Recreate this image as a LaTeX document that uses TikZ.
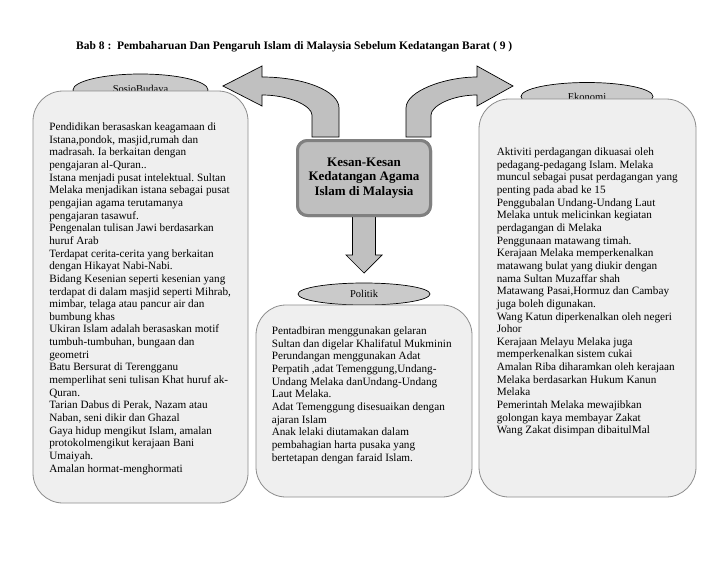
\documentclass[tikz,border=0pt]{standalone}
\usepackage{fontspec}
\setmainfont{Liberation Serif}
\usetikzlibrary{shapes.geometric,positioning}

\definecolor{boxfill}{HTML}{EFEFEF}
\definecolor{boxline}{HTML}{8C8C8C}
\definecolor{labelfill}{HTML}{CACACA}
\definecolor{arrowfill}{HTML}{C0C0C0}
\definecolor{kesanfill}{HTML}{BFBFBF}
\definecolor{kesanline}{HTML}{808080}

\tikzset{
  topicbox/.style={draw=boxline, fill=boxfill, rounded corners=30pt, line width=0.8pt},
  topiclabel/.style={ellipse, draw=black, fill=labelfill, line width=0.7pt, inner sep=0pt,
    font=\fontsize{10.5}{12}\selectfont},
  pointlist/.style={align=left, inner sep=0pt, font=\fontsize{11.2}{12.65}\selectfont},
  blockarrow/.style={draw=black, fill=arrowfill, line width=0.7pt, line join=miter},
  kesanbox/.style={draw=kesanline, fill=kesanfill, rounded corners=10pt, line width=3pt,
    align=center, font=\bfseries\fontsize{13}{14.5}\selectfont},
}
\frenchspacing

\begin{document}
\begin{tikzpicture}[x=1pt, y=-1pt]
    \useasboundingbox (0,0) rectangle (728,563);

    \node[anchor=west, inner sep=0pt, font=\bfseries\fontsize{11.5}{13}\selectfont] (judul) at (76,47)
        {Bab 8 :\ \ Pembaharuan Dan Pengaruh Islam di Malaysia Sebelum Kedatangan Barat ( 9 )};

    % labels first, the boxes hide their lower part
    \node[topiclabel, minimum width=135pt, minimum height=32pt] (sosiolabel) at (140.5,90) {SosioBudaya};
    \node[topiclabel, minimum width=132pt, minimum height=28pt] (ekonomilabel) at (587,96.5) {Ekonomi};
    \node[topiclabel, minimum width=132pt, minimum height=22pt] (politiklabel) at (364,294) {Politik};

    \node[topicbox, minimum width=215pt, minimum height=412pt] (sosio) at (140.5,297) {};
    \node[topicbox, minimum width=217pt, minimum height=398pt] (ekonomi) at (587.5,298) {};
    \node[topicbox, minimum width=216pt, minimum height=192pt] (politik) at (364,401) {};

    \node[pointlist, below right=32pt and 16.5pt of sosio.north west] (sosiotext) {%
        Pendidikan berasaskan keagamaan di\\
        Istana,pondok, masjid,rumah dan\\
        madrasah. Ia berkaitan dengan\\
        pengajaran al-Quran..\\
        Istana menjadi pusat intelektual. Sultan\\
        Melaka menjadikan istana sebagai pusat\\
        pengajian agama terutamanya\\
        pengajaran tasawuf.\\
        Pengenalan tulisan Jawi berdasarkan\\
        huruf Arab\\
        Terdapat cerita-cerita yang berkaitan\\
        dengan Hikayat Nabi-Nabi.\\
        Bidang Kesenian seperti kesenian yang\\
        terdapat di dalam masjid seperti Mihrab,\\
        mimbar, telaga atau pancur air dan\\
        bumbung khas\\
        Ukiran Islam adalah berasaskan motif\\
        tumbuh-tumbuhan, bungaan dan\\
        geometri\\
        Batu Bersurat di Terengganu\\
        memperlihat seni tulisan Khat huruf ak-\\
        Quran.\\
        Tarian Dabus di Perak, Nazam atau\\
        Naban, seni dikir dan Ghazal\\
        Gaya hidup mengikut Islam, amalan\\
        protokolmengikut kerajaan Bani\\
        Umaiyah.\\
        Amalan hormat-menghormati};

    \node[pointlist, below right=49pt and 18pt of ekonomi.north west] (ekonomitext) {%
        Aktiviti perdagangan dikuasai oleh\\
        pedagang-pedagang Islam. Melaka\\
        muncul sebagai pusat perdagangan yang\\
        penting pada abad ke 15\\
        Penggubalan Undang-Undang Laut\\
        Melaka untuk melicinkan kegiatan\\
        perdagangan di Melaka\\
        Penggunaan matawang timah.\\
        Kerajaan Melaka memperkenalkan\\
        matawang bulat yang diukir dengan\\
        nama Sultan Muzaffar shah\\
        Matawang Pasai,Hormuz dan Cambay\\
        juga boleh digunakan.\\
        Wang Katun diperkenalkan oleh negeri\\
        Johor\\
        Kerajaan Melayu Melaka juga\\
        memperkenalkan sistem cukai\\
        Amalan Riba diharamkan oleh kerajaan\\
        Melaka berdasarkan Hukum Kanun\\
        Melaka\\
        Pemerintah Melaka mewajibkan\\
        golongan kaya membayar Zakat\\
        Wang Zakat disimpan dibaitulMal};

    \node[pointlist, below right=22pt and 16pt of politik.north west] (politiktext) {%
        Pentadbiran menggunakan gelaran\\
        Sultan dan digelar Khalifatul Mukminin\\
        Perundangan menggunakan Adat\\
        Perpatih ,adat Temenggung,Undang-\\
        Undang Melaka danUndang-Undang\\
        Laut Melaka.\\
        Adat Temenggung disesuaikan dengan\\
        ajaran Islam\\
        Anak lelaki diutamakan dalam\\
        pembahagian harta pusaka yang\\
        bertetapan dengan faraid Islam.};

    % centre box, placed first so the arrows can hang on it
    \path node[kesanbox, minimum width=133pt, minimum height=75pt] (kesan) at (364,178) {};

    % curved block arrows to SosioBudaya and Ekonomi
    \begin{scope}[shift={(kesan.north)}]
        \draw[blockarrow] (-25,-2) -- (-25,-31) .. controls (-25,-48) and (-60,-62) .. (-102,-62)
            -- (-102,-73) -- (-141,-53) -- (-102,-33) -- (-102,-44)
            .. controls (-74.5,-44) and (-52,-33) .. (-52,-24) -- (-52,-2) -- cycle;
        \draw[blockarrow] (42,-2) -- (42,-31) .. controls (42,-48) and (81,-62) .. (113,-62)
            -- (113,-73) -- (149,-53) -- (113,-33) -- (113,-44)
            .. controls (88,-44) and (67,-33) .. (67,-24) -- (67,-2) -- cycle;
    \end{scope}
    % straight block arrow to Politik
    \begin{scope}[shift={(kesan.south)}]
        \draw[blockarrow] (-11.5,-2) -- (-11.5,38) -- (-18,38) -- (0,56) -- (18,38)
            -- (11.5,38) -- (11.5,-2) -- cycle;
    \end{scope}

    \node[kesanbox, minimum width=133pt, minimum height=75pt] at (kesan) {Kesan-Kesan\\Kedatangan Agama\\Islam di Malaysia};
\end{tikzpicture}
\end{document}
